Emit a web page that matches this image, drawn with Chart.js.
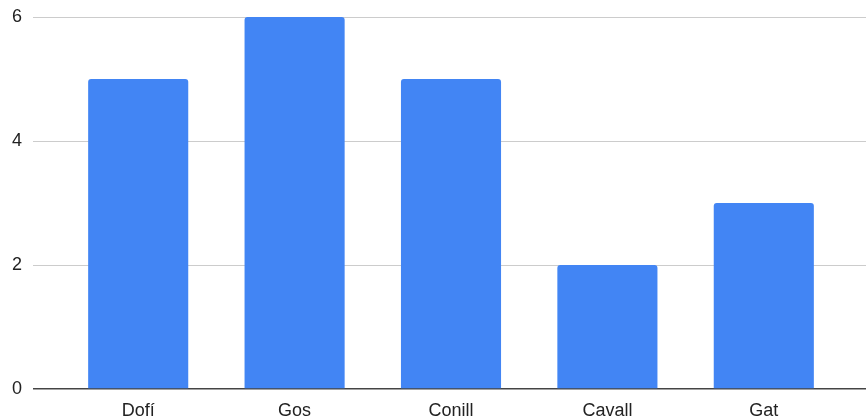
<!DOCTYPE html>
<html>
<head>
  <meta charset="utf-8">
  <title>Animals</title>
  <script src="https://cdn.jsdelivr.net/npm/chart.js"></script>
  <style>
    html, body { margin: 0; padding: 0; background: #fff; }
    #wrap { width: 866px; height: 419px; }
  </style>
</head>
<body>
  <div id="wrap"><canvas id="animalChart"></canvas></div>

  <script>
    const categories = ['Dofí', 'Gos', 'Conill', 'Cavall', 'Gat'];
    const values = [5, 6, 5, 2, 3];
    const yTicks = [0, 2, 4, 6];

    const font = { family: "'Liberation Sans', Arial, sans-serif", size: 18 };

    // grid colour: dark for the zero line, light grey for the rest
    function gridColor(ctx) {
      return ctx.tick && ctx.tick.value === 0 ? '#444444' : '#cccccc';
    }
    function gridWidth(ctx) {
      return ctx.tick && ctx.tick.value === 0 ? 1.5 : 1;
    }

    const ctx = document.getElementById('animalChart').getContext('2d');
    const chart = new Chart(ctx, {
      type: 'bar',
      data: {
        labels: categories,
        datasets: [{
          data: values,
          backgroundColor: '#4285f4',
          borderWidth: 0,
          borderRadius: 3,
          categoryPercentage: 1,
          barPercentage: 0.64
        }]
      },
      options: {
        responsive: true,
        maintainAspectRatio: false,
        animation: false,
        layout: { padding: { top: 17 } },
        plugins: {
          legend: { display: false },
          tooltip: { enabled: false }
        },
        scales: {
          x: {
            grid: { display: false, drawTicks: false },
            border: { display: false },
            ticks: { font: font, color: '#222', padding: 11 },
            afterFit: (s) => { s.height = 30; }
          },
          y: {
            min: yTicks[0],
            max: yTicks[yTicks.length - 1],
            afterBuildTicks: (s) => { s.ticks = yTicks.map(v => ({ value: v })); },
            grid: { color: gridColor, lineWidth: gridWidth, tickLength: 27 },
            border: { display: false },
            ticks: { font: font, color: '#222', padding: 11 },
            afterFit: (s) => { s.width = 60; s.paddingTop = 0; s.paddingBottom = 0; }
          },
          y2: {
            position: 'right',
            min: yTicks[0],
            max: yTicks[yTicks.length - 1],
            afterBuildTicks: (s) => { s.ticks = yTicks.map(v => ({ value: v })); },
            grid: { color: gridColor, lineWidth: gridWidth, tickLength: 24, drawOnChartArea: false },
            border: { display: false },
            ticks: { display: false },
            afterFit: (s) => { s.width = 24; s.paddingTop = 0; s.paddingBottom = 0; }
          }
        }
      }
    });
  </script>
</body>
</html>
